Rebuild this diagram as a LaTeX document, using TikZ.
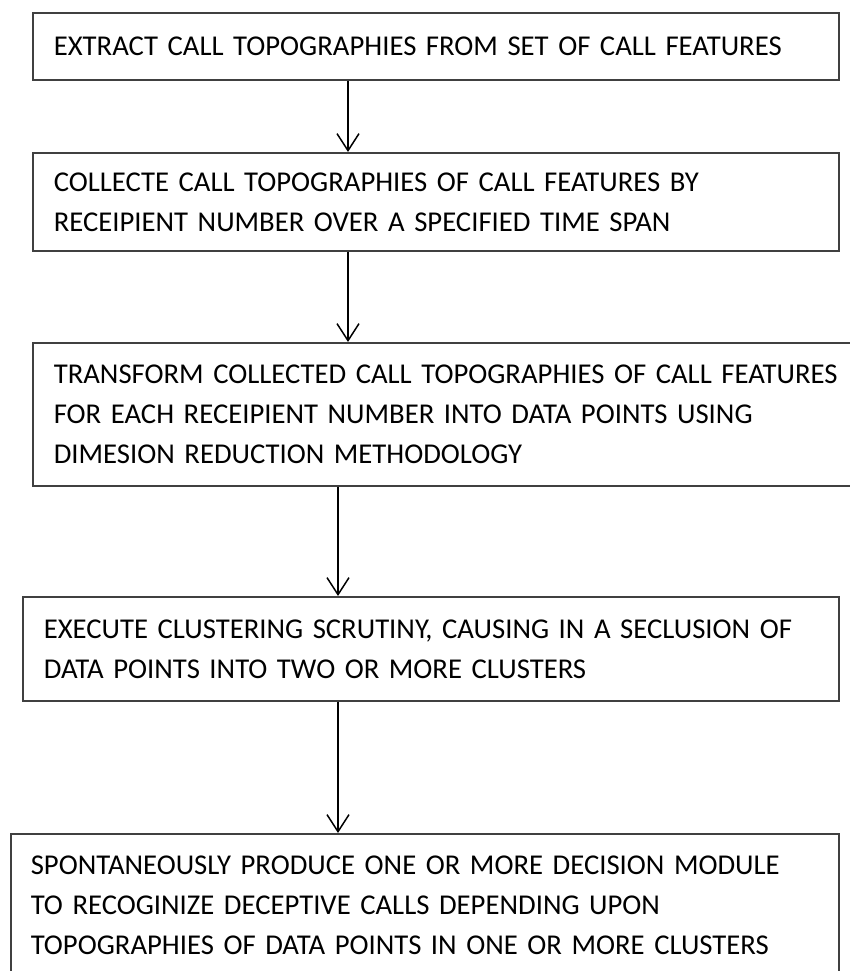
\documentclass[tikz,border=0pt]{standalone}
\usepackage{fontspec}
\setmainfont{Carlito}
\usetikzlibrary{arrows.meta}
\definecolor{boxline}{RGB}{64,64,64}
\tikzset{
  stepbox/.style={draw=boxline, line width=1.6pt, rectangle, anchor=north west,
    inner ysep=0pt, inner xsep=21pt, align=left,
    font=\fontsize{28.7}{40}\selectfont},
  arr/.style={draw=black, line width=1.5pt, -{Straight Barb[length=17pt,width=22pt,line width=1.5pt]}}
}
\begin{document}
\begin{tikzpicture}[x=1pt,y=-1pt]
\useasboundingbox (0,0) rectangle (850,971);
\node[stepbox, minimum width=806pt, minimum height=67pt, text width=764pt] (b1) at (32,12)
  {EXTRACT CALL TOPOGRAPHIES FROM SET OF CALL FEATURES};
\node[stepbox, minimum width=806pt, minimum height=98pt, text width=764pt] (b2) at (32,152)
  {COLLECTE CALL TOPOGRAPHIES OF CALL FEATURES BY\\RECEIPIENT NUMBER OVER A SPECIFIED TIME SPAN};
\node[stepbox, minimum width=840pt, minimum height=143pt, text width=798pt] (b3) at (32,342)
  {TRANSFORM COLLECTED CALL TOPOGRAPHIES OF CALL FEATURES\\FOR EACH RECEIPIENT NUMBER INTO DATA POINTS USING\\DIMESION REDUCTION METHODOLOGY};
\node[stepbox, minimum width=816pt, minimum height=104pt, text width=774pt] (b4) at (22,596)
  {EXECUTE CLUSTERING SCRUTINY, CAUSING IN A SECLUSION OF\\DATA POINTS INTO TWO OR MORE CLUSTERS};
\node[stepbox, inner xsep=20pt, minimum width=828pt, minimum height=142pt, text width=788pt] (b5) at (10,833)
  {SPONTANEOUSLY PRODUCE ONE OR MORE DECISION MODULE\\TO RECOGINIZE DECEPTIVE CALLS DEPENDING UPON\\TOPOGRAPHIES OF DATA POINTS IN ONE OR MORE CLUSTERS};
\coordinate (xa) at (348,0);
\coordinate (xb) at (338,0);
\draw[arr] (b1.south -| xa) -- (b2.north -| xa);
\draw[arr] (b2.south -| xa) -- (b3.north -| xa);
\draw[arr] (b3.south -| xb) -- (b4.north -| xb);
\draw[arr] (b4.south -| xb) -- (b5.north -| xb);
\end{tikzpicture}
\end{document}
